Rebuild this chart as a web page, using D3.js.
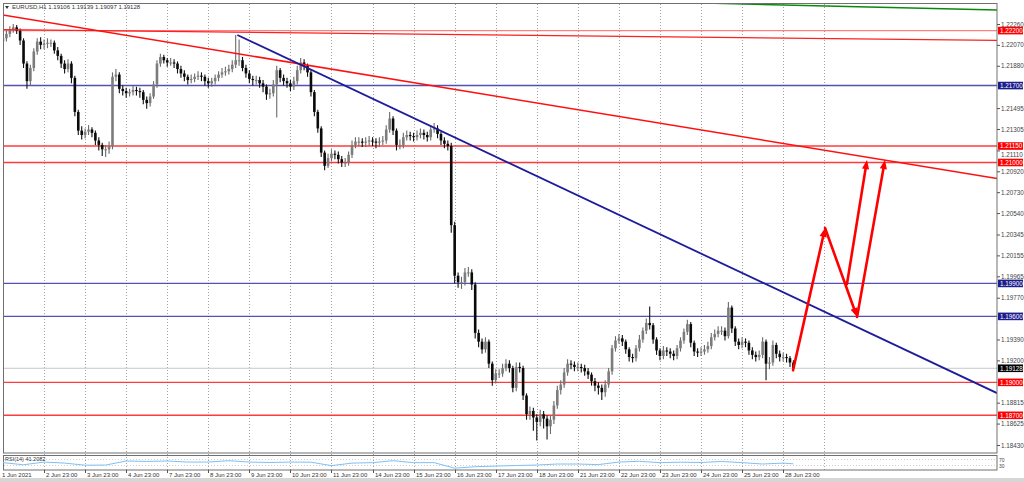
<!DOCTYPE html>
<html><head><meta charset="utf-8">
<script src="https://cdn.jsdelivr.net/npm/d3@7"></script>
<style>body{margin:0;background:#fff}svg{display:block;font-family:"Liberation Sans",Arial,sans-serif}</style>
</head><body><svg id="c" width="1024" height="482"></svg>
<script>
// ---------- data (EURUSD, 2-hour steps) ----------
const symbolTitle = "EURUSD,H1  1.19106 1.19139 1.19097 1.19128";
const firstOpen = 1.2210;
const closes = [
1.2213,1.2217,1.2221,1.2223,1.2220,1.2211,1.2190,1.2174,1.2186,1.2201,1.2210,1.2207,
1.2208,1.2209,1.2209,1.2202,1.2197,1.2190,1.2185,1.2190,1.2177,1.2146,1.2129,1.2125,
1.2128,1.2130,1.2127,1.2120,1.2116,1.2112,1.2112,1.2115,1.2178,1.2180,1.2167,1.2165,
1.2163,1.2164,1.2166,1.2165,1.2164,1.2157,1.2154,1.2160,1.2171,1.2190,1.2196,1.2193,
1.2191,1.2191,1.2190,1.2185,1.2181,1.2178,1.2175,1.2176,1.2178,1.2179,1.2178,1.2174,
1.2172,1.2174,1.2177,1.2180,1.2182,1.2183,1.2185,1.2189,1.2193,1.2193,1.2186,1.2181,
1.2176,1.2175,1.2175,1.2172,1.2169,1.2162,1.2163,1.2171,1.2184,1.2177,1.2174,1.2172,
1.2169,1.2174,1.2184,1.2191,1.2188,1.2182,1.2164,1.2146,1.2131,1.2109,1.2097,1.2104,
1.2108,1.2107,1.2103,1.2100,1.2100,1.2107,1.2116,1.2119,1.2119,1.2118,1.2119,1.2120,
1.2119,1.2118,1.2119,1.2120,1.2130,1.2140,1.2129,1.2116,1.2116,1.2123,1.2125,1.2124,
1.2123,1.2125,1.2127,1.2125,1.2123,1.2130,1.2131,1.2126,1.2120,1.2117,1.2115,1.2043,
1.1997,1.1991,1.1991,1.2000,1.2000,1.1989,1.1945,1.1937,1.1930,1.1937,1.1917,1.1902,
1.1908,1.1908,1.1913,1.1917,1.1913,1.1895,1.1914,1.1913,1.1888,1.1871,1.1874,1.1868,
1.1864,1.1871,1.1867,1.1860,1.1866,1.1879,1.1893,1.1898,1.1909,1.1917,1.1916,1.1914,
1.1914,1.1913,1.1910,1.1907,1.1901,1.1897,1.1895,1.1891,1.1898,1.1910,1.1931,1.1938,
1.1940,1.1937,1.1930,1.1923,1.1922,1.1931,1.1939,1.1947,1.1954,1.1952,1.1939,1.1929,
1.1924,1.1929,1.1928,1.1926,1.1924,1.1931,1.1938,1.1946,1.1953,1.1936,1.1928,1.1927,
1.1928,1.1930,1.1933,1.1941,1.1944,1.1947,1.1947,1.1942,1.1968,1.1949,1.1937,1.1934,
1.1937,1.1936,1.1929,1.1925,1.1923,1.1925,1.1937,1.1917,1.1918,1.1934,1.1926,1.1923,
1.1923,1.1922,1.1918,1.1913];
const highs = [
1.2216,1.2220,1.2224,1.2226,1.2225,1.2222,1.2213,1.2192,1.2189,1.2204,1.2213,1.2214,
1.2212,1.2213,1.2212,1.2211,1.2205,1.2199,1.2193,1.2194,1.2192,1.2179,1.2148,1.2133,
1.2131,1.2134,1.2132,1.2129,1.2123,1.2118,1.2116,1.2119,1.2182,1.2185,1.2182,1.2170,
1.2168,1.2167,1.2170,1.2169,1.2168,1.2166,1.2160,1.2163,1.2174,1.2193,1.2199,1.2198,
1.2195,1.2195,1.2194,1.2192,1.2188,1.2184,1.2180,1.2180,1.2181,1.2183,1.2182,1.2180,
1.2177,1.2177,1.2180,1.2183,1.2186,1.2187,1.2189,1.2193,1.2216,1.2212,1.2196,1.2189,
1.2184,1.2179,1.2179,1.2178,1.2175,1.2171,1.2167,1.2175,1.2188,1.2186,1.2180,1.2177,
1.2175,1.2178,1.2188,1.2195,1.2194,1.2190,1.2184,1.2166,1.2148,1.2133,1.2111,1.2108,
1.2112,1.2111,1.2110,1.2106,1.2104,1.2110,1.2120,1.2123,1.2123,1.2122,1.2123,1.2124,
1.2123,1.2122,1.2123,1.2124,1.2134,1.2146,1.2142,1.2131,1.2121,1.2127,1.2129,1.2128,
1.2127,1.2129,1.2131,1.2130,1.2128,1.2134,1.2136,1.2134,1.2128,1.2123,1.2120,1.2118,
1.2046,1.2000,1.1996,1.2004,1.2005,1.2003,1.1991,1.1948,1.1940,1.1941,1.1939,1.1919,
1.1912,1.1912,1.1917,1.1921,1.1920,1.1915,1.1918,1.1918,1.1915,1.1890,1.1878,1.1877,
1.1871,1.1875,1.1874,1.1870,1.1870,1.1883,1.1897,1.1902,1.1913,1.1921,1.1920,1.1919,
1.1918,1.1917,1.1916,1.1913,1.1909,1.1904,1.1900,1.1898,1.1902,1.1913,1.1934,1.1942,
1.1944,1.1943,1.1939,1.1932,1.1926,1.1934,1.1943,1.1950,1.1958,1.1969,1.1954,1.1941,
1.1931,1.1933,1.1932,1.1931,1.1929,1.1934,1.1941,1.1949,1.1957,1.1955,1.1938,1.1931,
1.1932,1.1934,1.1937,1.1945,1.1948,1.1951,1.1951,1.1950,1.1973,1.1970,1.1951,1.1940,
1.1941,1.1940,1.1938,1.1932,1.1928,1.1929,1.1941,1.1939,1.1923,1.1938,1.1936,1.1929,
1.1927,1.1926,1.1924,1.1920];
const lows = [
1.2205,1.2210,1.2214,1.2218,1.2217,1.2207,1.2186,1.2167,1.2170,1.2183,1.2198,1.2203,
1.2203,1.2204,1.2205,1.2199,1.2193,1.2186,1.2181,1.2182,1.2172,1.2142,1.2125,1.2121,
1.2122,1.2125,1.2123,1.2116,1.2111,1.2106,1.2105,1.2108,1.2112,1.2174,1.2163,1.2161,
1.2159,1.2160,1.2161,1.2161,1.2159,1.2153,1.2149,1.2151,1.2158,1.2168,1.2187,1.2190,
1.2187,1.2188,1.2186,1.2181,1.2177,1.2174,1.2171,1.2172,1.2173,1.2175,1.2174,1.2170,
1.2168,1.2169,1.2171,1.2174,1.2177,1.2179,1.2180,1.2182,1.2186,1.2188,1.2183,1.2177,
1.2172,1.2170,1.2171,1.2168,1.2164,1.2157,1.2158,1.2160,1.2141,1.2173,1.2170,1.2168,
1.2165,1.2166,1.2171,1.2181,1.2184,1.2178,1.2160,1.2142,1.2127,1.2105,1.2093,1.2095,
1.2101,1.2103,1.2099,1.2096,1.2096,1.2097,1.2104,1.2113,1.2115,1.2114,1.2114,1.2115,
1.2115,1.2113,1.2114,1.2116,1.2117,1.2127,1.2125,1.2111,1.2112,1.2113,1.2120,1.2120,
1.2119,1.2120,1.2122,1.2121,1.2119,1.2120,1.2127,1.2122,1.2116,1.2113,1.2111,1.2036,
1.1990,1.1986,1.1985,1.1988,1.1996,1.1984,1.1940,1.1932,1.1926,1.1927,1.1913,1.1897,
1.1899,1.1904,1.1905,1.1910,1.1909,1.1891,1.1892,1.1909,1.1884,1.1866,1.1866,1.1856,
1.1847,1.1860,1.1858,1.1848,1.1853,1.1862,1.1876,1.1889,1.1895,1.1906,1.1912,1.1910,
1.1910,1.1909,1.1906,1.1903,1.1897,1.1892,1.1889,1.1884,1.1887,1.1895,1.1907,1.1928,
1.1935,1.1933,1.1926,1.1919,1.1918,1.1919,1.1928,1.1936,1.1944,1.1948,1.1935,1.1925,
1.1920,1.1921,1.1924,1.1922,1.1920,1.1921,1.1928,1.1935,1.1943,1.1932,1.1924,1.1923,
1.1924,1.1925,1.1927,1.1930,1.1938,1.1941,1.1943,1.1938,1.1940,1.1945,1.1933,1.1930,
1.1931,1.1932,1.1925,1.1921,1.1919,1.1920,1.1922,1.1902,1.1912,1.1915,1.1922,1.1919,
1.1919,1.1918,1.1914,1.1910];
const barHours = 2;            // one bar per 2 hours
const rsiValues = [49,35,53,46,32,33,60,57,60,53,53,62,53,50,53,52,29,46,49,62,49,49,12,22,26,30,33,40,40,36,53,58,49,52,50,57,49,40,46];
const rsiStepHours = 12;
const rsiNow = 41.2082;
const rsiLevels = [70, 30];
const dayLabels = ["1 Jun 2021","2 Jun 23:00","3 Jun 23:00","4 Jun 23:00","7 Jun 23:00","8 Jun 23:00","9 Jun 23:00","10 Jun 23:00","11 Jun 23:00","14 Jun 23:00","15 Jun 23:00","16 Jun 23:00","17 Jun 23:00","18 Jun 23:00","21 Jun 23:00","22 Jun 23:00","23 Jun 23:00","24 Jun 23:00","25 Jun 23:00","28 Jun 23:00"];
const gridCount = 20;
const priceTicks = [1.22260,1.22070,1.21880,1.21495,1.21305,1.21110,1.20920,1.20730,1.20540,1.20345,1.20155,1.19965,1.19770,1.19390,1.19200,1.18815,1.18625,1.18430];
const levelPrices = [1.22200,1.21700,1.21150,1.21000,1.19900,1.19600,1.19000,1.18700];
const levelKinds  = ["red","blue","red","red","blue","blue","red","red"];
const bidPrice = 1.19128;
// trend lines: [hourStart, priceStart, hourEnd, priceEnd]
const trendRed   = [-2, 1.22346, 581, 1.20854];
const trendRed2  = [-2, 1.22209, 581, 1.22111];
const trendBlue  = [137, 1.22160, 581, 1.18902];
const trendGreen = [410, 1.22451, 581, 1.22387];
// projected arrows: [hourStart, priceStart, hourEnd, priceEnd]
const arrows = [
  [461.8, 1.19111, 480.5, 1.20404],
  [480.5, 1.20404, 499.2, 1.19594],
  [493.3, 1.19894, 505.0, 1.21022],
  [499.2, 1.19594, 515.5, 1.21022]
];

// ---------- drawing ----------
const svg = d3.select("#c");
const x = d3.scaleLinear().domain([0, 581]).range([3, 997]);
const y = d3.scaleLinear().domain([1.18430, 1.22260]).range([445, 24]);
const yR = d3.scaleLinear().domain([0, 100]).range([470, 455]);
const colors = {red:"#ff1a1a", blue:"#3535a8"};

svg.append("rect").attr("width",1024).attr("height",482).attr("fill","#fff");
svg.append("rect").attr("x",0).attr("y",478).attr("width",1024).attr("height",4).attr("fill","#d6d6d6");

const defs = svg.append("defs");
defs.append("clipPath").attr("id","mainClip").append("rect").attr("x",3).attr("y",3).attr("width",994).attr("height",450);

// grid
const grid = svg.append("g");
for (let k = 1; k <= gridCount; k++) {
  grid.append("line").attr("x1", Math.round(x(24*k))+0.5).attr("x2", Math.round(x(24*k))+0.5)
    .attr("y1",4).attr("y2",470).attr("stroke","#8a8a8a").attr("stroke-width",0.8).attr("stroke-dasharray","1,2");
}

const main = svg.append("g").attr("clip-path","url(#mainClip)");

// level lines
levelPrices.forEach((p,i)=>{
  const yy = y(p);
  main.append("line").attr("x1",3).attr("x2",997).attr("y1",yy).attr("y2",yy)
    .attr("stroke", colors[levelKinds[i]]).attr("stroke-width", 1.4)
    .attr("opacity", i===0 ? 0.55 : 0.85);
});
main.append("line").attr("x1",3).attr("x2",997).attr("y1",y(bidPrice)).attr("y2",y(bidPrice))
  .attr("stroke","#c8c8c8").attr("stroke-width",1);

// candles
const bars = closes.map((c,i)=>({h:i*barHours, o: i===0?firstOpen:closes[i-1], c, hi:highs[i], lo:lows[i]}));
const cg = main.append("g");
cg.selectAll("line.w").data(bars).join("line")
  .attr("x1",d=>x(d.h)).attr("x2",d=>x(d.h)).attr("y1",d=>y(d.hi)).attr("y2",d=>y(d.lo))
  .attr("stroke",d=>d.c>=d.o?"#6a6a6a":"#111").attr("stroke-width",1.1);
cg.selectAll("rect").data(bars).join("rect")
  .attr("x",d=>x(d.h)-1.3).attr("width",2.6)
  .attr("y",d=>y(Math.max(d.o,d.c)))
  .attr("height",d=>Math.max(1, y(Math.min(d.o,d.c))-y(Math.max(d.o,d.c))))
  .attr("fill",d=>d.c>=d.o?"#7c7c7c":"#0a0a0a");

// trend lines
function tl(t, color, w){
  main.append("line").attr("x1",x(t[0])).attr("y1",y(t[1])).attr("x2",x(t[2])).attr("y2",y(t[3]))
    .attr("stroke",color).attr("stroke-width",w);
}
tl(trendRed2, "#ff2020", 1.3);
tl(trendRed, "#ff1010", 1.5);
tl(trendBlue, "#1c1c9c", 1.8);
tl(trendGreen, "#0a8a0a", 1.5);

// arrows
arrows.forEach(a=>{
  const x0=x(a[0]), y0=y(a[1]), x1=x(a[2]), y1=y(a[3]);
  const dx=x1-x0, dy=y1-y0, L=Math.hypot(dx,dy), ux=dx/L, uy=dy/L;
  const hl=9, hw=3.6;
  const bx=x1-ux*hl, by=y1-uy*hl;
  main.append("line").attr("x1",x0).attr("y1",y0).attr("x2",bx+ux).attr("y2",by+uy)
    .attr("stroke","#ff0000").attr("stroke-width",2.6).attr("stroke-linecap","round");
  main.append("path").attr("d",`M${x1},${y1}L${bx-uy*hw},${by+ux*hw}L${bx+uy*hw},${by-ux*hw}Z`).attr("fill","#ff0000");
});

// frames
svg.append("rect").attr("x",3.5).attr("y",3.5).attr("width",993.5).attr("height",449.5).attr("fill","none").attr("stroke","#707070");
svg.append("rect").attr("x",3.5).attr("y",455.5).attr("width",993.5).attr("height",14.5).attr("fill","none").attr("stroke","#707070");

// header
svg.append("path").attr("d","M5,6 L9,6 L7,9 Z").attr("fill","#333");
svg.append("text").attr("x",12).attr("y",9).attr("font-size",6).attr("fill","#333").text(symbolTitle);

// price axis
const axis = svg.append("g").attr("transform","translate(997,0)")
  .call(d3.axisRight(y).tickValues(priceTicks).tickSize(3).tickPadding(1).tickFormat(d3.format(".5f")));
axis.select(".domain").remove();
axis.selectAll("line").attr("stroke","#555");
axis.selectAll("text").attr("font-size",6.3).attr("fill","#444").attr("font-family","Liberation Sans, Arial, sans-serif");
// tick text squeezed under a level tag is pushed just below it, as the terminal does
axis.selectAll(".tick").filter(d=>levelPrices.some(p=>Math.abs(y(p)-y(d))<8 && y(p)<y(d)))
  .select("text").attr("dy","1.0em");

// level labels
const labelColors = {red:"#ff0000", blue:"#1c1c8c"};
function tag(p, bg){
  const yy = y(p);
  svg.append("rect").attr("x",998).attr("y",yy-3.8).attr("width",25).attr("height",7.6).attr("fill",bg);
  svg.append("text").attr("x",1000).attr("y",yy+2.3).attr("font-size",6.3).attr("fill","#fff").text(d3.format(".5f")(p));
}
levelPrices.forEach((p,i)=>tag(p, labelColors[levelKinds[i]]));
tag(bidPrice, "#000");

// RSI
const rsiPts = rsiValues.map((v,i)=>[i*rsiStepHours, v]);
rsiPts.push([closes.length*barHours-barHours, rsiNow]);
rsiLevels.forEach(l=>{
  svg.append("line").attr("x1",4).attr("x2",996).attr("y1",yR(l)).attr("y2",yR(l))
    .attr("stroke","#bbb").attr("stroke-width",0.7).attr("stroke-dasharray","1,2");
  svg.append("text").attr("x",999).attr("y",yR(l)+2).attr("font-size",5).attr("fill","#444").text(l);
});
svg.append("path").datum(rsiPts)
  .attr("d", d3.line().x(d=>x(d[0])).y(d=>yR(d[1])))
  .attr("fill","none").attr("stroke","#7ec0f5").attr("stroke-width",1);
svg.append("text").attr("x",5).attr("y",461).attr("font-size",5.5).attr("fill","#333").text("RSI(14) " + rsiNow.toFixed(4));

// time axis
dayLabels.forEach((t,k)=>{
  const xx = k===0 ? 2 : Math.round(x(24*k))+2;
  if (k>0) svg.append("line").attr("x1",Math.round(x(24*k))+0.5).attr("x2",Math.round(x(24*k))+0.5).attr("y1",470).attr("y2",473).attr("stroke","#555");
  svg.append("text").attr("x",xx).attr("y",477).attr("font-size",6).attr("fill","#333").text(t);
});
</script></body></html>
